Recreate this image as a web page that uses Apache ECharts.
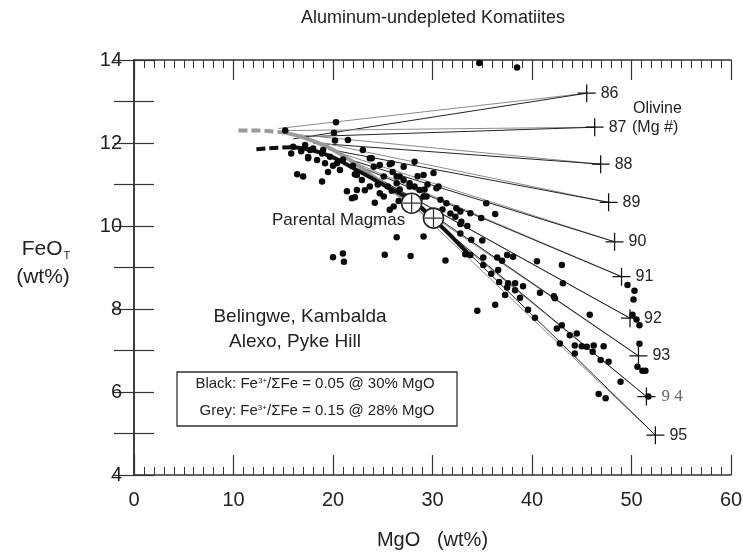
<!DOCTYPE html>
<html><head><meta charset="utf-8">
<script src="https://cdn.jsdelivr.net/npm/echarts@6/dist/echarts.min.js"></script>
<style>html,body{margin:0;padding:0;background:#fff}#c{width:743px;height:554px}</style>
</head><body><div id="c"></div><script>
// ---- data ----
const titleText = 'Aluminum-undepleted Komatiites';
const xTickLabels = [0, 10, 20, 30, 40, 50, 60];
const yTickLabels = [4, 6, 8, 10, 12, 14];
const olivineMg = ['86','87','88','89','90','91','92','93','94','95'];
const olivineMgO = [45.5, 46.3, 46.9, 47.7, 48.3, 49.0, 49.85, 50.7, 51.5, 52.4];
const olivineFeO = [13.2, 12.38, 11.49, 10.57, 9.62, 8.78, 7.78, 6.87, 5.89, 4.96];
const greyStartMgO = [14.5, 15.5, 16.5, 18, 19.5, 21, 23, 25, 27, 28];
const greyStartFeO = [12.35, 12.3, 12.2, 12.05, 11.85, 11.65, 11.35, 11.05, 10.7, 10.5];
const blackStartMgO = [16, 17, 18, 19.5, 21, 22.5, 24.5, 26.5, 28.5, 30];
const blackStartFeO = [12.1, 12.15, 12.0, 11.85, 11.65, 11.45, 11.15, 10.85, 10.45, 10.2];
const greyDashMgO = [10.5, 13, 15.2];
const greyDashFeO = [12.3, 12.3, 12.25];
const greyCurveMgO = [15.2, 18, 21, 24, 28];
const greyCurveFeO = [12.25, 12.05, 11.7, 11.2, 10.5];
const blackDashMgO = [12.3, 14, 16];
const blackDashFeO = [11.85, 11.88, 11.9];
const blackCurveMgO = [16, 19, 22, 25, 28, 30, 33.5];
const blackCurveFeO = [11.9, 11.75, 11.4, 11.0, 10.6, 10.2, 9.35];
const parentalMgO = [27.9, 30.1];
const parentalFeO = [10.55, 10.19];
const komatiiteMgO = [
 20.3,20.1,20.2,21.5,15.2,16.0,15.8,17.5,18.0,18.4,19.2,19.7,20.4,20.7,16.4,17.0,18.9,19.0,23.0,22.4,
 22.9,21.4,22.4,23.2,21.9,22.2,24.2,23.7,24.7,25.1,25.7,26.4,27.1,28.2,29.1,30.1,27.1,27.7,29.1,30.4,
 30.8,26.1,25.7,26.6,25.1,23.9,25.9,17.7,18.9,17.5,22.2,24.7,25.9,26.7,26.4,26.7,27.7,28.2,28.7,29.2,
 28.7,29.4,30.6,31.4,32.4,32.8,32.3,32.9,33.8,34.9,35.4,36.3,24.1,23.7,21.0,22.0,19.5,20.0,16.8,17.2,
 24.5,25.5,27.4,26.0,28.5,29.5,31.0,31.8,33.5,
 26.4,29.1,20.0,21.0,21.1,25.2,27.8,31.3,32.8,32.8,33.9,35.0,33.3,33.8,35.1,35.1,35.9,36.5,36.6,37.0,
 37.5,38.1,40.5,43.0,43.1,36.7,37.6,38.3,37.5,38.3,39.1,37.3,38.8,40.8,42.2,42.3,36.3,34.5,39.6,40.3,
 45.8,42.5,43.0,43.8,44.5,42.8,44.3,45.0,45.5,46.2,47.2,44.3,46.1,46.9,47.7,48.9,46.7,47.4,49.6,50.3,
 50.2,50.1,50.5,50.8,50.8,50.6,51.1,51.4,51.7,
 34.7,38.5];
const komatiiteFeO = [
 12.5,12.25,12.06,12.07,12.3,11.91,11.75,11.66,11.87,11.59,11.51,11.67,11.51,11.35,11.25,11.19,11.07,11.83,11.83,11.23,
 11.11,10.84,10.87,10.86,10.67,10.69,10.56,10.95,11.47,11.19,11.49,11.19,11.43,11.55,11.23,11.28,11.11,10.95,10.71,10.91,
 10.63,10.47,10.39,10.6,10.71,11.63,11.51,11.83,11.75,11.63,11.25,10.79,10.85,10.88,11.03,11.19,11.03,10.95,10.87,10.88,
 10.63,10.71,10.95,10.55,10.43,10.35,10.22,10.1,10.31,10.19,10.55,10.29,11.43,11.63,11.6,11.45,11.3,11.45,11.8,11.95,
 11.0,10.95,10.7,11.3,11.2,11.0,10.4,10.3,10.0,
 9.73,9.75,9.25,9.34,9.14,9.31,9.28,9.17,9.82,10.05,9.67,9.65,9.32,9.3,9.24,9.06,8.85,9.24,8.94,9.16,
 9.3,9.26,9.15,9.06,8.62,8.65,8.62,8.62,8.52,8.45,8.55,8.34,8.27,8.39,8.31,8.26,8.1,7.96,7.98,7.79,
 7.86,7.53,7.61,7.37,7.41,7.17,7.12,7.1,7.09,7.12,7.1,6.93,6.97,6.77,6.73,6.25,5.95,5.85,8.58,8.44,
 8.23,7.86,7.75,7.61,7.16,6.61,6.51,6.51,5.89,
 13.93,13.82];

// ---- build ----
const FF = '"Liberation Sans", Arial, sans-serif';
const zip = (a, b) => a.map((v, i) => [v, b[i]]);
const series = [];
olivineMg.forEach((m, i) => {
  series.push({type:'line', data:[[greyStartMgO[i], greyStartFeO[i]],[olivineMgO[i], olivineFeO[i]]],
    symbol:'none', silent:true, z:2, lineStyle:{color:'#8a8a8a', width:1}});
  series.push({type:'line', data:[[blackStartMgO[i], blackStartFeO[i]],[olivineMgO[i], olivineFeO[i]]],
    symbol:'none', silent:true, z:2, lineStyle:{color:'#222', width:1}});
});
series.push({type:'line', data:zip(greyCurveMgO, greyCurveFeO), symbol:'none', smooth:true, z:3,
  lineStyle:{color:'#9a9a9a', width:4}});
series.push({type:'line', data:zip(greyDashMgO, greyDashFeO), symbol:'none', z:3,
  lineStyle:{color:'#999', width:4, type:[9,4]}});
series.push({type:'line', data:zip(blackCurveMgO, blackCurveFeO), symbol:'none', smooth:true, z:3,
  lineStyle:{color:'#111', width:4}});
series.push({type:'line', data:zip(blackDashMgO, blackDashFeO), symbol:'none', z:3,
  lineStyle:{color:'#111', width:4, type:[9,4]}});
series.push({type:'scatter', data:zip(komatiiteMgO, komatiiteFeO), symbol:'circle', symbolSize:6.5, z:4,
  itemStyle:{color:'#0a0a0a', opacity:1}});
const plusPath = 'path://M-0.07,-1 H0.07 V-0.07 H1 V0.07 H0.07 V1 H-0.07 V0.07 H-1 V-0.07 H-0.07 Z';
series.push({type:'scatter', data:zip(parentalMgO, parentalFeO), symbol:'circle', symbolSize:20, z:5,
  itemStyle:{color:'#fff', borderColor:'#222', borderWidth:1.6, opacity:1}});
series.push({type:'scatter', data:zip(parentalMgO, parentalFeO), symbol:plusPath, symbolSize:18, z:6,
  itemStyle:{color:'#333', opacity:1}});
series.push({type:'scatter', symbol:plusPath, symbolSize:18, z:7, itemStyle:{color:'#111', opacity:1},
  data: olivineMg.map((m, i) => ({
    value:[olivineMgO[i], olivineFeO[i]], name:m,
    label: m === '94'
      ? {show:true, position:'right', distance:6, formatter:'9 4', fontFamily:'"Liberation Serif", serif', fontSize:17, color:'#666'}
      : {show:true, position:'right', distance:5, formatter:m, fontFamily:FF, fontSize:16, color:'#222'}
  }))
});

const tickColor = '#333';
function xAx(pos, labels) {
  return {type:'value', min:0, max:60, interval:10, position:pos,
    axisLine:{show:true, lineStyle:{color:tickColor, width:1.5}},
    axisTick:{show:true, inside:true, length:20, lineStyle:{color:tickColor, width:1.2}},
    minorTick:{show:true, splitNumber:10, length:8, lineStyle:{color:tickColor, width:1}},
    splitLine:{show:false},
    axisLabel:{show:labels, fontSize:20, color:'#222', margin:15, fontFamily:FF,
      formatter:v => xTickLabels.includes(v) ? String(v) : ''},
    name: labels ? 'MgO   (wt%)' : '', nameLocation:'middle', nameGap:55,
    nameTextStyle:{fontSize:20, color:'#222', fontFamily:FF}};
}
function yAx(pos, labels) {
  return {type:'value', min:4, max:14, interval:2, position:pos,
    axisLine:{show:true, lineStyle:{color:tickColor, width:1.5}},
    axisTick:{show:true, inside:true, length:20, lineStyle:{color:tickColor, width:1.2}},
    minorTick:{show:true, splitNumber:2, length:20, lineStyle:{color:tickColor, width:1.2}},
    splitLine:{show:false},
    axisLabel:{show:labels, fontSize:20, color:'#222', margin:12, fontFamily:FF,
      formatter:v => yTickLabels.includes(v) ? String(v) : ''}};
}

const txt = (x, y, text, size, align, extra) => ({type:'text', x, y, z:20, silent:true,
  style:Object.assign({text, fontSize:size, fontFamily:FF, fill:'#222', textAlign:align||'center', textVerticalAlign:'middle'}, extra||{})});

const chart = echarts.init(document.getElementById('c'), null, {renderer:'canvas'});
chart.setOption({
  animation:false,
  grid:{left:134, right:12, top:60, bottom:79, containLabel:false, outerBoundsMode:'none'},
  xAxis:[xAx('bottom', true), xAx('top', false)],
  yAxis:[yAx('left', true), yAx('right', false)],
  series,
  graphic:[
    txt(433, 18, titleText, 18),
    txt(46, 249, 'FeO{sub|T}', 21, 'center', {rich:{sub:{fontSize:11, padding:[14,0,0,1]}}}),
    txt(43, 277, '(wt%)', 21),
    txt(272, 220, 'Parental Magmas', 17, 'left'),
    txt(633, 109, 'Olivine', 16, 'left'),
    txt(632, 128, '(Mg #)', 16, 'left'),
    txt(300, 317, 'Belingwe, Kambalda', 19),
    txt(295, 342, 'Alexo, Pyke Hill', 19),
    {type:'rect', z:19, silent:true, shape:{x:177, y:372, width:280, height:54},
      style:{fill:'#fff', stroke:'#333', lineWidth:1.3}},
    txt(315, 384, 'Black: Fe{sup|3+}/ΣFe = 0.05 @ 30% MgO', 15, 'center', {rich:{sup:{fontSize:8, padding:[0,0,7,0]}}}),
    txt(317, 411, 'Grey: Fe{sup|3+}/ΣFe = 0.15 @ 28% MgO', 15, 'center', {rich:{sup:{fontSize:8, padding:[0,0,7,0]}}})
  ]
});
</script></body></html>
